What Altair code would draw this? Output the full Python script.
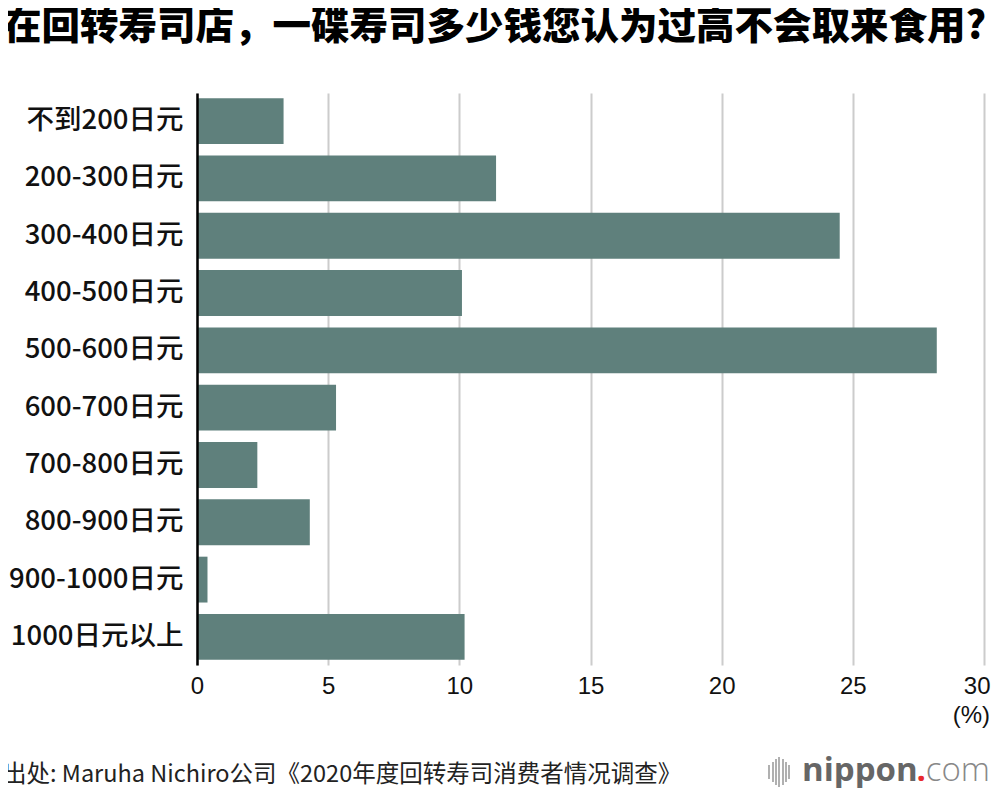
import altair as alt
import pandas as pd

categories = ["不到200日元", "200-300日元", "300-400日元", "400-500日元", "500-600日元",
              "600-700日元", "700-800日元", "800-900日元", "900-1000日元", "1000日元以上"]
values = [3.3, 11.4, 24.5, 10.1, 28.2, 5.3, 2.3, 4.3, 0.4, 10.2]
x_ticks = [0, 5, 10, 15, 20, 25, 30]

title_text = "在回转寿司店，一碟寿司多少钱您认为过高不会取来食用?"
source_text = "出处: Maruha Nichiro公司《2020年度回转寿司消费者情况调查》"
unit_text = "(%)"

W, H = 787, 572

df = pd.DataFrame({"cat": categories, "value": values})

bars = alt.Chart(df).mark_bar(color="#5f807c").encode(
    x=alt.X("value:Q", scale=alt.Scale(domain=[0, 30], nice=False),
            axis=alt.Axis(values=x_ticks, grid=True, gridColor="#cccccc", gridWidth=2,
                          domain=False, ticks=False, labelFontSize=24,
                          labelFont="Liberation Sans", labelColor="#111111",
                          labelPadding=9, title=None, labelFlush=False,
                          labelAlign={"condition": {"test": "datum.value == 30", "value": "right"},
                                      "value": "center"},
                          labelOffset={"condition": {"test": "datum.value == 30", "value": 6},
                                       "value": 0})),
    y=alt.Y("cat:N", sort=categories,
            scale=alt.Scale(paddingInner=0.2, paddingOuter=0.09),
            axis=alt.Axis(domain=True, domainColor="#000000", domainWidth=2.5,
                          ticks=False, grid=False, labelFontSize=27.5, labelFontWeight=500,
                          labelFont="Noto Sans CJK SC", labelColor="#111111",
                          labelPadding=14, title=None, zindex=1)),
)

def txt(s, x, y, size, font, weight="normal", color="#111111", align="left", baseline="middle"):
    return alt.Chart(pd.DataFrame({"t": [s]})).mark_text(
        align=align, baseline=baseline, fontSize=size, font=font,
        fontWeight=weight, color=color
    ).encode(text="t:N", x=alt.value(x), y=alt.value(y))

title = txt(title_text, -194, -66, 38.5, "Noto Sans CJK SC", weight=900, color="#000000")
unit = txt(unit_text, W + 6, H + 51, 24, "Liberation Sans", align="right")
source = txt(source_text, -194, 682, 23.5, "Noto Sans CJK SC", color="#222222")
logo1 = txt("nippon", 605, 678, 33, "Open Sans", weight="bold", color="#666666")
logo2 = txt(".", 719.5, 678, 33, "Open Sans", weight="bold", color="#e8292b")
logo3 = txt("com", 793, 678, 33, "Open Sans", weight=300, color="#888888", align="right")

icon_dx = [572, 576, 579, 582, 586, 589, 592]
icon_h = [7, 10, 13, 15, 13, 10, 7]
icon_df = pd.DataFrame({"dx": icon_dx, "h": icon_h})
icon_df["y1"] = 679 - icon_df["h"]
icon_df["y2"] = 679 + icon_df["h"]
icon = alt.Chart(icon_df).mark_rule(color="#b0b0b0", strokeWidth=2).encode(
    x=alt.X("dx:Q", scale=None), y=alt.Y("y1:Q", scale=None), y2="y2:Q"
)

chart = alt.layer(bars, title, unit, source, logo1, logo2, logo3, icon).properties(
    width=W, height=H,
    autosize=alt.AutoSizeParams(type="none"),
    padding={"left": 189, "top": 85, "right": 8, "bottom": 123},
).configure_view(stroke=None)

chart.save("out.html", embed_options={"renderer": "svg", "actions": False})
